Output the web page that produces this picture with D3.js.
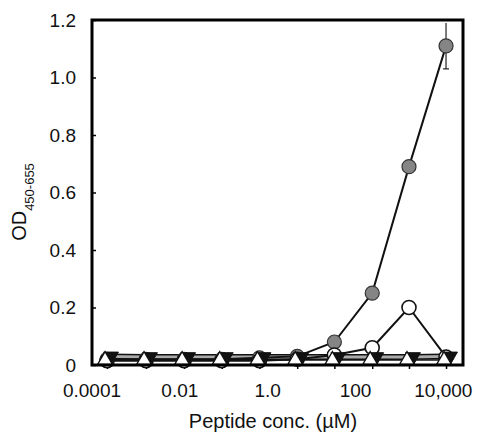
<!DOCTYPE html>
<html>
<head>
<meta charset="utf-8">
<script src="https://cdn.jsdelivr.net/npm/d3@7"></script>
<style>
  body { margin: 0; background: #fff; }
  text { font-family: "Liberation Sans", Arial, sans-serif; fill: #111; }
</style>
</head>
<body>
<svg id="chart" width="480" height="433"></svg>
<script>
// peptide concentrations (uM)
var conc = [0.00022, 0.0017, 0.0125, 0.09, 0.65, 4.7, 33, 240, 1650, 11500];

// OD values per series
var greyCircle = [0.02, 0.02, 0.02, 0.02, 0.025, 0.03, 0.08, 0.25, 0.69, 1.11];
var greyCircleErr = [0, 0, 0, 0, 0, 0, 0, 0, 0, 0.08];
var openCircle = [0.015, 0.015, 0.015, 0.015, 0.015, 0.02, 0.035, 0.06, 0.2, 0.028];
var downTriangle = [0.03, 0.028, 0.028, 0.028, 0.028, 0.028, 0.028, 0.028, 0.028, 0.03];
var upTriangle = [0.017, 0.017, 0.017, 0.017, 0.017, 0.017, 0.017, 0.017, 0.017, 0.017];

var xLabelValues = [0.0001, 0.01, 1, 100, 10000];
var xLabelText = ["0.0001", "0.01", "1.0", "100", "10,000"];
var yTickValues = [0, 0.2, 0.4, 0.6, 0.8, 1.0, 1.2];
var yTickText = ["0", "0.2", "0.4", "0.6", "0.8", "1.0", "1.2"];

var svg = d3.select("#chart");
var mLeft = 92, mRight = 463, mTop = 20, mBottom = 365;

var x = d3.scaleLog().domain([0.0001, 28000]).range([mLeft, mRight]);
var y = d3.scaleLinear().domain([0, 1.2]).range([mBottom, mTop]);

// y axis ticks (inward) and labels
svg.append("g")
    .attr("transform", "translate(" + mLeft + ",0)")
    .call(d3.axisRight(y).tickValues(yTickValues).tickSize(4).tickFormat(""))
    .call(function(g) { g.select(".domain").remove(); g.selectAll("line").attr("stroke", "#000").attr("stroke-width", 1.5); });

svg.append("g")
    .selectAll("text")
    .data(yTickValues)
    .enter().append("text")
    .attr("x", 76)
    .attr("y", function(d) { return y(d); })
    .attr("dy", "0.36em")
    .attr("text-anchor", "end")
    .attr("font-size", 19)
    .text(function(d, i) { return yTickText[i]; });

// x axis: ticks at the measured concentrations, labels at decades
svg.append("g")
    .attr("transform", "translate(0," + mBottom + ")")
    .call(d3.axisBottom(x).tickValues(conc).tickSize(4).tickFormat(""))
    .call(function(g) { g.select(".domain").remove(); g.selectAll("line").attr("stroke", "#000").attr("stroke-width", 1.5); });

svg.append("g")
    .selectAll("text")
    .data(xLabelValues)
    .enter().append("text")
    .attr("x", function(d) { return x(d); })
    .attr("y", 397)
    .attr("text-anchor", "middle")
    .attr("font-size", 19)
    .text(function(d, i) { return xLabelText[i]; });

// axis titles
svg.append("text")
    .attr("x", 273)
    .attr("y", 428)
    .attr("text-anchor", "middle")
    .attr("font-size", 20)
    .text("Peptide conc. (\u00b5M)");

var yt = svg.append("text")
    .attr("transform", "translate(26,202) rotate(-90)")
    .attr("text-anchor", "middle")
    .attr("font-size", 20);
yt.append("tspan").text("OD");
yt.append("tspan").attr("font-size", 13).attr("dy", 8).text("450-655");

// lines
var line = function(vals) {
    return d3.line()
        .x(function(d, i) { return x(conc[i]); })
        .y(function(d) { return y(d); })(vals);
};

svg.append("path").attr("d", line(downTriangle))
    .attr("fill", "none").attr("stroke", "#111").attr("stroke-width", 6);
svg.append("path").attr("d", line(downTriangle))
    .attr("fill", "none").attr("stroke", "#aaa").attr("stroke-width", 3);
svg.append("path").attr("d", line(upTriangle))
    .attr("fill", "none").attr("stroke", "#111").attr("stroke-width", 1.5);
svg.append("path").attr("d", line(openCircle))
    .attr("fill", "none").attr("stroke", "#111").attr("stroke-width", 2);
svg.append("path").attr("d", line(greyCircle))
    .attr("fill", "none").attr("stroke", "#111").attr("stroke-width", 2);

// error bar on the last grey point
svg.append("g").selectAll("g")
    .data(greyCircle.map(function(v, i) { return {i: i, v: v, e: greyCircleErr[i]}; }).filter(function(d) { return d.e > 0; }))
    .enter().append("g")
    .each(function(d) {
        var g = d3.select(this), cx = x(conc[d.i]);
        g.append("line").attr("x1", cx).attr("x2", cx)
            .attr("y1", y(d.v + d.e)).attr("y2", y(d.v - d.e))
            .attr("stroke", "#222").attr("stroke-width", 1.2);
        g.append("line").attr("x1", cx - 3).attr("x2", cx + 3)
            .attr("y1", y(d.v - d.e)).attr("y2", y(d.v - d.e))
            .attr("stroke", "#222").attr("stroke-width", 1.2);
    });

// markers
svg.append("g").selectAll("circle")
    .data(greyCircle).enter().append("circle")
    .attr("cx", function(d, i) { return x(conc[i]); })
    .attr("cy", function(d) { return y(d); })
    .attr("r", 7)
    .attr("fill", "#858585").attr("stroke", "#333").attr("stroke-width", 1.2);

svg.append("g").selectAll("circle")
    .data(openCircle).enter().append("circle")
    .attr("cx", function(d, i) { return x(conc[i]); })
    .attr("cy", function(d) { return y(d); })
    .attr("r", 7)
    .attr("fill", "#fff").attr("stroke", "#111").attr("stroke-width", 1.6);

var tri = d3.symbol().type(d3.symbolTriangle).size(95);

svg.append("g").selectAll("path")
    .data(downTriangle).enter().append("path")
    .attr("d", tri)
    .attr("transform", function(d, i) { return "translate(" + (x(conc[i]) + 4) + "," + y(d) + ") rotate(180)"; })
    .attr("fill", "#111").attr("stroke", "#111").attr("stroke-width", 1);

svg.append("g").selectAll("path")
    .data(upTriangle).enter().append("path")
    .attr("d", tri)
    .attr("transform", function(d, i) { return "translate(" + (x(conc[i]) - 2) + "," + y(d) + ")"; })
    .attr("fill", "#fff").attr("stroke", "#111").attr("stroke-width", 1.3);

// frame
svg.append("rect")
    .attr("x", mLeft).attr("y", mTop)
    .attr("width", mRight - mLeft).attr("height", mBottom - mTop)
    .attr("fill", "none").attr("stroke", "#000").attr("stroke-width", 3);
</script>
</body>
</html>
